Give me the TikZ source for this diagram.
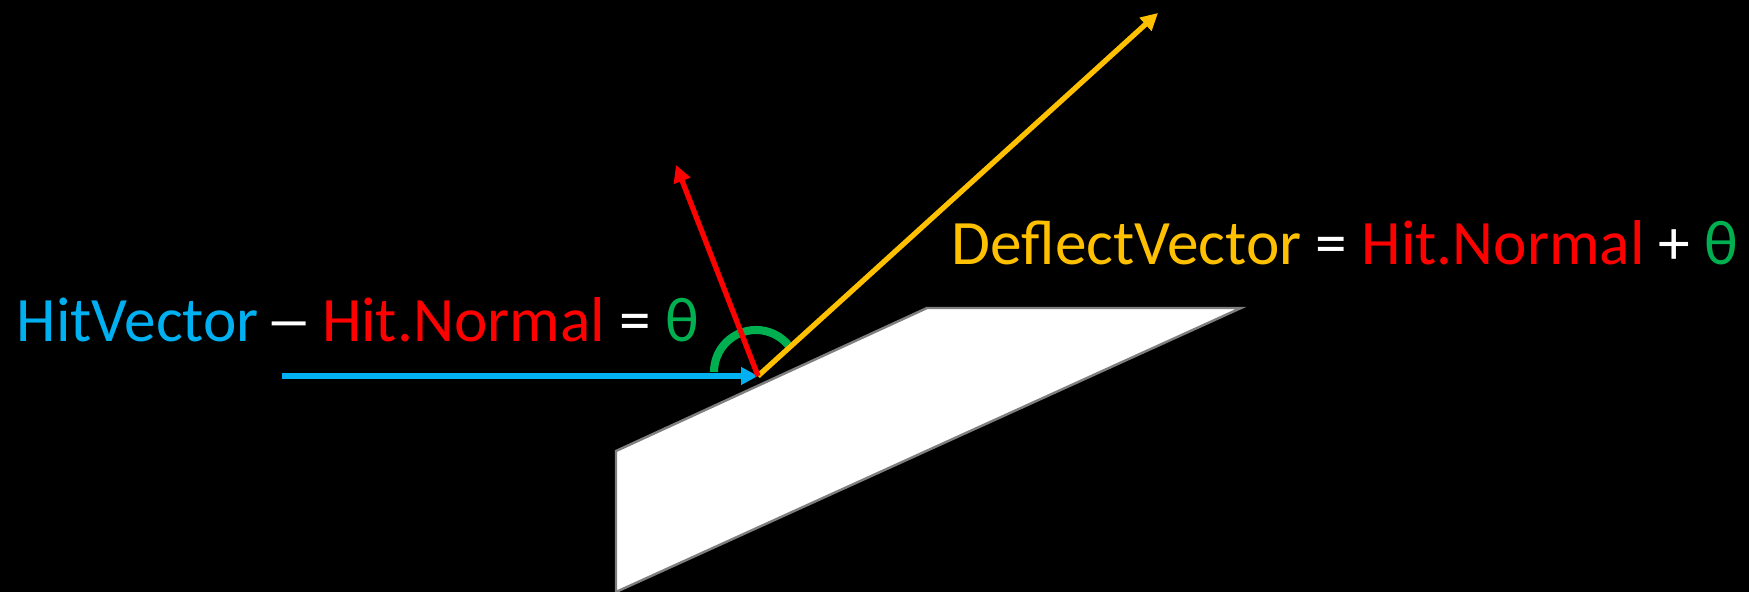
\documentclass[tikz,border=0pt]{standalone}
\usepackage{fontspec}
\setmainfont{Carlito}
\usepackage{xcolor}
\usetikzlibrary{arrows.meta}
\definecolor{hitblue}{HTML}{00B0F0}
\definecolor{normred}{HTML}{FF0000}
\definecolor{deflyellow}{HTML}{FFC000}
\definecolor{thetagreen}{HTML}{00B050}
\definecolor{edgegray}{HTML}{7F7F7F}

\begin{document}
\begin{tikzpicture}[x=0.01cm,y=-0.01cm,>={Triangle[length=0.17cm,width=0.17cm]},
  vec/.style={line width=1.5pt,->},
  eqn/.style={font=\fontsize{18}{20}\selectfont,inner sep=0pt,anchor=base west}]
\fill[black] (0,0) rectangle (1749,592);
\useasboundingbox (0,0) rectangle (1749,592);
\draw[edgegray,fill=white,line width=0.7pt] (927,308)--(1241,308)--(616,592)--(616,451)--cycle;
\coordinate (hit) at (758,376);
\coordinate (start) at (282,376);
\coordinate (ntip) at (676,165);
\coordinate (dtip) at (1158,13);
\draw[thetagreen,line width=2.3pt] (714,372) arc[start angle=180,end angle=320,radius=42];
\draw[vec,hitblue] (start)--(hit);
\draw[vec,deflyellow] (hit)--(dtip);
\draw[vec,normred] (hit)--(ntip);
\node[eqn] (hiteq) at (16,342) {\color{hitblue}HitVector\hspace{0.1em}\color{white}\scalebox{1.5}[1]{–}\hspace{0.15em}\color{normred}Hit.Normal \color{white}= \color{thetagreen}θ};
\node[eqn] (defleq) at (951,265) {\color{deflyellow}DeflectVector \color{white}= \color{normred}Hit.Normal \color{white}+ \color{thetagreen}θ};
\end{tikzpicture}
\end{document}
